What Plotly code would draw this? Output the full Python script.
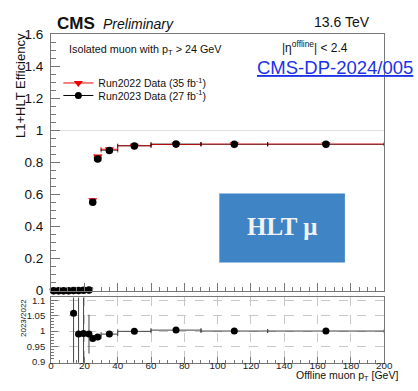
import plotly.graph_objects as go

W, H = 418, 391
FONT = "Liberation Sans, Arial, Helvetica, sans-serif"
AXIS_COL = "#777777"

# ---- efficiency vs offline muon pT ----
pt = [1.5, 4.5, 7.5, 10.5, 13.5, 16.5, 19.5, 22.75, 25, 28, 35, 50, 75, 110, 165]
pt_halfwidth = [1.5, 1.5, 1.5, 1.5, 1.5, 1.5, 1.5, 1.25, 1, 2, 5, 10, 15, 20, 35]
eff_2022 = [0, 0, 0, 0, 0.001, 0.001, 0.002, 0.004, 0.565, 0.838, 0.883, 0.905, 0.913, 0.915, 0.915]
eff_2023 = [0, 0, 0, 0, 0.001, 0.001, 0.002, 0.004, 0.552, 0.822, 0.875, 0.904, 0.916, 0.914, 0.914]
eff_err_2022 = [0, 0, 0, 0, 0.001, 0.001, 0.001, 0.002, 0.006, 0.004, 0.003, 0.002, 0.002, 0.002, 0.003]
eff_err_2023 = [0, 0, 0, 0, 0.001, 0.001, 0.001, 0.002, 0.006, 0.004, 0.003, 0.002, 0.002, 0.002, 0.003]

# ---- ratio 2023 / 2022 ----
ratio_pt = [13.5, 16.5, 19.5, 22.75, 25, 28, 35, 50, 75, 110, 165]
ratio_halfwidth = [1.5, 1.5, 1.5, 1.25, 1, 2, 5, 10, 15, 20, 35]
ratio = [1.058, 0.990, 0.992, 0.990, 0.976, 0.981, 0.990, 0.999, 1.003, 1.000, 1.000]
ratio_err = [0.5, 0.5, 0.5, 0.063, 0.004, 0.003, 0.002, 0.001, 0.001, 0.001, 0.002]

eff_ticks = [0, 0.2, 0.4, 0.6, 0.8, 1.0, 1.2, 1.4, 1.6]
eff_ticktext = ["0", "0.2", "0.4", "0.6", "0.8", "1", "1.2", "1.4", "1.6"]
ratio_ticks = [0.9, 0.95, 1.0, 1.05, 1.1]
ratio_ticktext = ["0.9", "0.95", "1", "1.05", "1.1"]
pt_ticks = list(range(0, 201, 20))


def px(x):
    return x / W


def py(y):
    return 1 - y / H


fig = go.Figure()

# Run2022: red downward triangles
fig.add_trace(go.Scatter(
    x=pt, y=eff_2022, mode="markers", showlegend=False, cliponaxis=False,
    marker=dict(symbol="triangle-down", size=8, color="#ee0000"),
    error_x=dict(type="data", array=pt_halfwidth, color="#ee0000", thickness=1, width=2),
    error_y=dict(type="data", array=eff_err_2022, color="#ee0000", thickness=1, width=0),
    xaxis="x", yaxis="y",
))
# Run2023: black circles
fig.add_trace(go.Scatter(
    x=pt, y=eff_2023, mode="markers", showlegend=False, cliponaxis=False,
    marker=dict(symbol="circle", size=7.5, color="black"),
    error_x=dict(type="data", array=pt_halfwidth, color="rgba(0,0,0,0.55)", thickness=1, width=2),
    error_y=dict(type="data", array=eff_err_2023, color="black", thickness=1, width=0),
    xaxis="x", yaxis="y",
))

# ratio panel
fig.add_trace(go.Scatter(
    x=ratio_pt, y=ratio, mode="markers", showlegend=False,
    marker=dict(symbol="circle", size=7, color="black"),
    error_x=dict(type="data", array=ratio_halfwidth, color="#444444", thickness=1, width=2),
    error_y=dict(type="data", array=ratio_err, color="#444444", thickness=1, width=0),
    xaxis="x2", yaxis="y2",
))

# legend entries
fig.add_trace(go.Scatter(
    x=[None], y=[None], mode="lines+markers", name="Run2022 Data (35 fb<sup>-1</sup>)",
    marker=dict(symbol="triangle-down", size=8, color="#ee0000"),
    line=dict(color="#ee0000", width=1), legend="legend",
))
fig.add_trace(go.Scatter(
    x=[None], y=[None], mode="lines+markers", name="Run2023 Data (27 fb<sup>-1</sup>)",
    marker=dict(symbol="circle", size=7, color="black"),
    line=dict(color="black", width=1), legend="legend2",
))

xdom = [px(49.5), px(392.5)]
axis_common = dict(showline=True, linecolor=AXIS_COL, linewidth=1, mirror=True,
                   ticks="inside", tickcolor=AXIS_COL, zeroline=False)

legend_common = dict(bgcolor="rgba(0,0,0,0)", borderwidth=0, xanchor="left", yanchor="middle",
                     font=dict(family=FONT, size=10.5, color="#111"), itemwidth=30,
                     tracegroupgap=0)

fig.update_layout(
    width=W, height=H, margin=dict(l=0, r=0, t=0, b=0),
    paper_bgcolor="white", plot_bgcolor="white",
    font=dict(family=FONT, color="#111"),
    xaxis=dict(domain=xdom, range=[0, 200], anchor="y", showticklabels=False,
               tickvals=pt_ticks, ticklen=8, showgrid=False,
               minor=dict(dtick=5, ticks="inside", ticklen=4, tickcolor=AXIS_COL, showgrid=False),
               **axis_common),
    yaxis=dict(domain=[py(295), py(28.5)], range=[0, 1.6], anchor="x",
               tickvals=eff_ticks, ticktext=eff_ticktext, ticklen=9,
               tickfont=dict(family=FONT, size=13.5, color="#111"), ticklabelstandoff=4,
               showgrid=False,
               minor=dict(dtick=0.05, ticks="inside", ticklen=5, tickcolor=AXIS_COL, showgrid=False),
               **axis_common),
    xaxis2=dict(domain=xdom, range=[0, 200], anchor="y2",
                tickvals=pt_ticks, ticklen=6,
                tickfont=dict(family=FONT, size=9.8, color="#222"), ticklabelstandoff=-7,
                showgrid=True, gridcolor="#c8c8c8", griddash="dash", gridwidth=1,
                minor=dict(dtick=5, ticks="inside", ticklen=3, tickcolor=AXIS_COL, showgrid=False),
                **axis_common),
    yaxis2=dict(domain=[py(370), py(302)], range=[0.897, 1.109], anchor="x2",
                tickvals=ratio_ticks, ticktext=ratio_ticktext, ticklen=7,
                tickfont=dict(family=FONT, size=9.5, color="#222"), ticklabelstandoff=3,
                showgrid=True, gridcolor="#c8c8c8", griddash="dash", gridwidth=1,
                minor=dict(dtick=0.01, ticks="inside", ticklen=3, tickcolor=AXIS_COL, showgrid=False),
                **axis_common),
    legend=dict(x=px(57), y=py(79), **legend_common),
    legend2=dict(x=px(57), y=py(92), **legend_common),
)

# unity reference line in the efficiency panel
fig.add_shape(type="line", xref="x domain", yref="y", x0=0, x1=1, y0=1, y1=1,
              line=dict(color="#dddddd", width=1), layer="below")

# HLT mu badge
fig.add_shape(type="rect", xref="paper", yref="paper",
              x0=px(222.7), x1=px(352), y0=py(265.7), y1=py(194),
              fillcolor="#3f84c5", line=dict(width=0))

annotations = [
    dict(text="<b>CMS</b>", x=px(54), y=py(17), xanchor="left", yanchor="middle",
         font=dict(family=FONT, size=17, color="#111")),
    dict(text="<i>Preliminary</i>", x=px(101), y=py(17.5), xanchor="left", yanchor="middle",
         font=dict(family=FONT, size=14, color="#111")),
    dict(text="13.6 TeV", x=px(380), y=py(16), xanchor="right", yanchor="middle",
         font=dict(family=FONT, size=14, color="#111")),
    dict(text="Isolated muon with p<sub>T</sub> > 24 GeV", x=px(66), y=py(45),
         xanchor="left", yanchor="middle", font=dict(family=FONT, size=10.8, color="#111")),
    dict(text="|\u03b7<sup>offline</sup>| < 2.4", x=px(285), y=py(42),
         xanchor="left", yanchor="middle", font=dict(family=FONT, size=12, color="#111")),
    dict(text="<u>CMS-DP-2024/005</u>", x=px(259), y=py(62.5), xanchor="left", yanchor="middle",
         font=dict(family=FONT, size=18.5, color="#1a33e6")),
    dict(text="<b>HLT \u03bc</b>", x=px(287.5), y=py(228), xanchor="center", yanchor="middle",
         font=dict(family="Liberation Serif, DejaVu Serif, serif", size=25, color="#f2f2f2")),
    dict(text="L1+HLT Efficiency", x=px(18), y=py(25), xanchor="center", yanchor="top",
         textangle=-90, font=dict(family=FONT, size=13, color="#111")),
    dict(text="2023/2022", x=px(21), y=py(323), xanchor="center", yanchor="middle",
         textangle=-90, font=dict(family=FONT, size=8, color="#111")),
    dict(text="Offline muon p<sub>T</sub> [GeV]", x=px(409), y=py(393),
         xanchor="right", yanchor="bottom", font=dict(family=FONT, size=10.5, color="#111")),
]
for a in annotations:
    a.update(xref="paper", yref="paper", showarrow=False)
fig.update_layout(annotations=annotations)

fig.write_html("out.html")
